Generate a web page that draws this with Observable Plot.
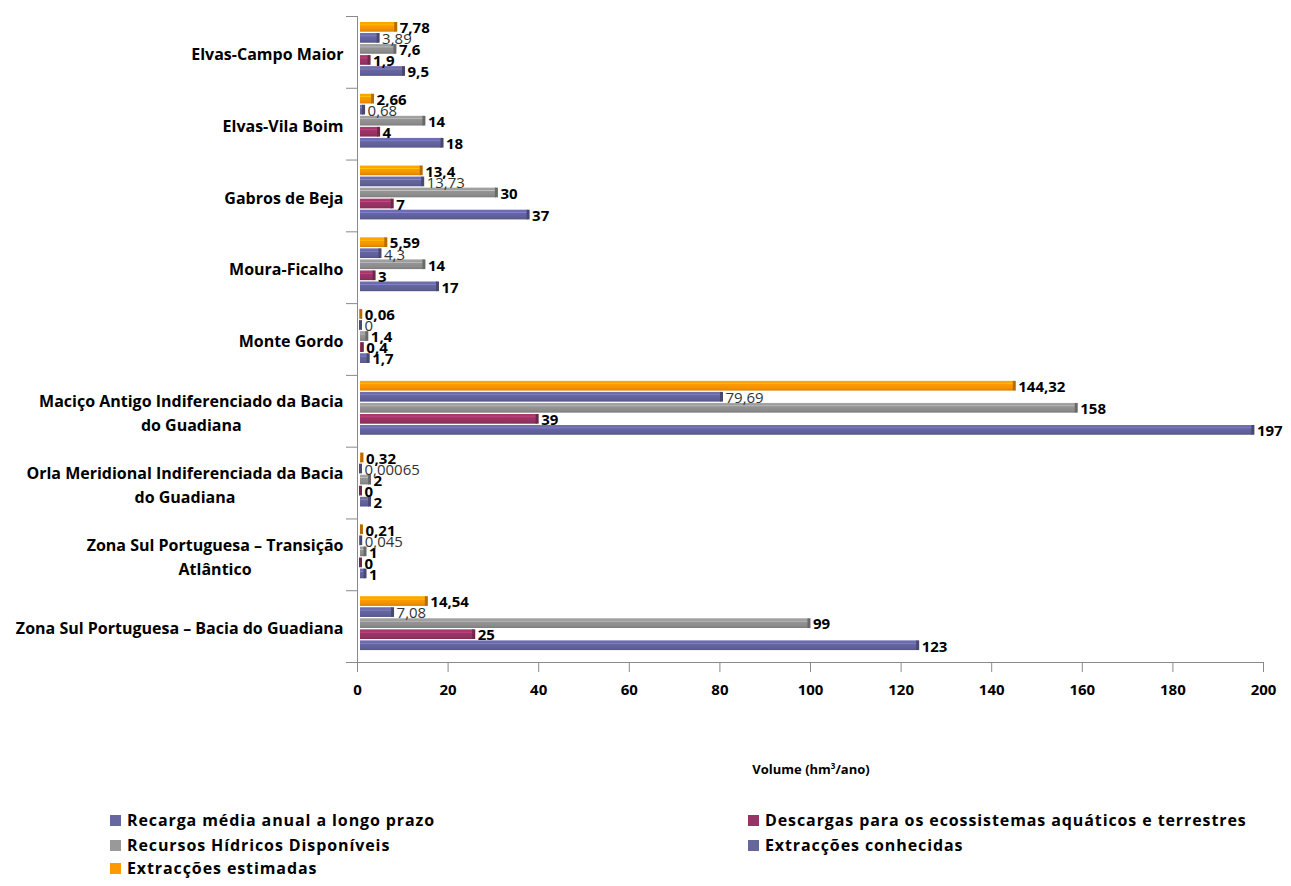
<!DOCTYPE html>
<html>
<head>
<meta charset="utf-8">
<script src="https://cdn.jsdelivr.net/npm/d3@7"></script>
<script src="https://cdn.jsdelivr.net/npm/@observablehq/plot@0.6"></script>
<style>
  body { margin: 0; background: #fff; }
  #page { position: relative; width: 1291px; height: 886px; font-family: "Open Sans", Lato, sans-serif; }
  #page svg.plot { position: absolute; left: 0; top: 0; }
  .xtitle { position: absolute; top: 760px; left: 661px; width: 300px; text-align: center;
            font-weight: bold; font-size: 13px; color: #000; }
  .xtitle sup { font-size: 8px; }
  .legend-item { position: absolute; display: flex; align-items: center; gap: 6px;
                 font-weight: bold; font-size: 16px; letter-spacing: 0.9px; line-height: 18px;
                 color: #000; white-space: nowrap; }
  .legend-item .sw { width: 11px; height: 11px; display: inline-block; }
</style>
</head>
<body>
<div id="page"></div>
<svg width="0" height="0" style="position:absolute"><defs id="grads"></defs></svg>
<script>
// Groundwater bodies of the Guadiana basin, listed top to bottom as drawn
const categories = [
  "Elvas-Campo Maior",
  "Elvas-Vila Boim",
  "Gabros de Beja",
  "Moura-Ficalho",
  "Monte Gordo",
  "Maciço Antigo Indiferenciado da Bacia\ndo Guadiana",
  "Orla Meridional Indiferenciada da Bacia\ndo Guadiana",
  "Zona Sul Portuguesa – Transição\nAtlântico",
  "Zona Sul Portuguesa – Bacia do Guadiana"
];

// Volumes in hm³/ano, one value per category (same order as above)
const recarga    = [9.5, 18, 37, 17, 1.7, 197, 2, 1, 123];
const descargas  = [1.9, 4, 7, 3, 0.4, 39, 0, 0, 25];
const recursos   = [7.6, 14, 30, 14, 1.4, 158, 2, 1, 99];
const conhecidas = [3.89, 0.68, 13.73, 4.3, 0, 79.69, 0.00065, 0.045, 7.08];
const estimadas  = [7.78, 2.66, 13.4, 5.59, 0.06, 144.32, 0.32, 0.21, 14.54];

const seriesNames = [
  "Recarga média anual a longo prazo",
  "Descargas para os ecossistemas aquáticos e terrestres",
  "Recursos Hídricos Disponíveis",
  "Extracções conhecidas",
  "Extracções estimadas"
];
const seriesValues = [recarga, descargas, recursos, conhecidas, estimadas];
const barColors    = ["#606098", "#943261", "#8c8c8c", "#606098", "#f29100"];
const legendColors = ["#6666a0", "#993366", "#999999", "#666699", "#ff9900"];
const xTicks = [0, 20, 40, 60, 80, 100, 120, 140, 160, 180, 200];

// Long-format table built from the arrays
const rows = [];
categories.forEach((c, i) => {
  seriesValues.forEach((vals, s) => {
    rows.push({ cat: c, i, s, series: seriesNames[s], value: vals[i] });
  });
});

// Vertical layout: each category gets a slot of 6.5 bar steps
const BAND = 6.5;
const HALF = 0.44;
const nCat = categories.length;
const catCenter = i => (nCat - 1 - i) * BAND + BAND / 2;
const barCenter = d => catCenter(d.i) + 0.27 + (d.s - 2);
const boundaries = d3.range(nCat + 1).map(k => k * BAND);

const fmt = v => String(v).replace(".", ",");

// Cylinder-like shading for each series
const defs = d3.select("#grads");
barColors.forEach((c, s) => {
  const base = d3.color(c);
  const g = defs.append("linearGradient").attr("id", "grad" + s)
    .attr("x1", 0).attr("y1", 0).attr("x2", 0).attr("y2", 1);
  const stops = [
    [0, base.brighter(0.45)],
    [0.22, base.brighter(0.3)],
    [0.3, base.brighter(0.9)],
    [0.38, base.brighter(0.15)],
    [0.75, base],
    [1, base.darker(0.35)]
  ];
  stops.forEach(([o, col]) => g.append("stop").attr("offset", o).attr("stop-color", col.formatHex()));
});
const capColors = barColors.map(c => d3.color(c).darker(0.8).formatHex());

const FONT = "'Open Sans', Lato, sans-serif";

// Category labels: block right-aligned, lines centred within the block
const ctx = document.createElement("canvas").getContext("2d");
ctx.font = "bold 16px 'Open Sans'";
const labelMarks = categories.map((c, i) => {
  const w = d3.max(c.split("\n"), line => ctx.measureText(line).width);
  return Plot.text([c], {
    x: () => 0, y: () => catCenter(i), text: d => d,
    textAnchor: "middle", dx: -14 - w / 2,
    fontSize: 16, fontWeight: "bold", lineHeight: 1.5, fill: "#000"
  });
});

const axisColor = "#8a8a8a";

const chart = Plot.plot({
  width: 1291,
  height: 712,
  marginLeft: 357,
  marginRight: 28,
  marginTop: 16,
  marginBottom: 50,
  style: { fontFamily: FONT, background: "transparent" },
  x: { domain: [0, 200], axis: null },
  y: { domain: [0, nCat * BAND], axis: null },
  color: { type: "identity" },
  marks: [
    Plot.ruleY([0], { stroke: axisColor }),
    Plot.ruleX([0], { stroke: axisColor }),
    Plot.axisY({ ticks: boundaries, tickSize: 11, tickFormat: () => "", stroke: axisColor, label: null }),
    Plot.axisX({ ticks: xTicks, tickSize: 10, tickPadding: 12, fontSize: 15, fontWeight: "bold",
                 stroke: axisColor, fill: "#000", label: null }),
    Plot.rect(rows, {
      x1: () => 0, x2: "value",
      y1: d => barCenter(d) - HALF, y2: d => barCenter(d) + HALF,
      fill: d => `url(#grad${d.s})`, dx: 3
    }),
    Plot.ruleX(rows, {
      x: "value",
      y1: d => barCenter(d) - HALF, y2: d => barCenter(d) + HALF,
      stroke: d => capColors[d.s], strokeWidth: 3, dx: 3
    }),
    Plot.text(rows.filter(d => d.s !== 3), {
      x: "value", y: barCenter, text: d => fmt(d.value),
      textAnchor: "start", dx: 7, dy: 1, fontSize: 15, fontWeight: "bold", fill: "#000"
    }),
    Plot.text(rows.filter(d => d.s === 3), {
      x: "value", y: barCenter, text: d => fmt(d.value),
      textAnchor: "start", dx: 7, dy: 1, fontSize: 15, fontWeight: "normal", fill: "#333"
    }),
    ...labelMarks
  ]
});
chart.classList.add("plot");

const page = document.getElementById("page");
page.appendChild(chart);

// Axis title
const title = document.createElement("div");
title.className = "xtitle";
title.innerHTML = "Volume (hm<sup>3</sup>/ano)";
page.appendChild(title);

// Legend: two columns, filled row by row
const legendPos = [[110, 811], [748, 811], [110, 836], [748, 836], [110, 859]];
seriesNames.forEach((name, s) => {
  const item = document.createElement("div");
  item.className = "legend-item";
  item.style.left = legendPos[s][0] + "px";
  item.style.top = legendPos[s][1] + "px";
  item.innerHTML = `<span class="sw" style="background:${legendColors[s]}"></span><span>${name}</span>`;
  page.appendChild(item);
});
</script>
</body>
</html>
